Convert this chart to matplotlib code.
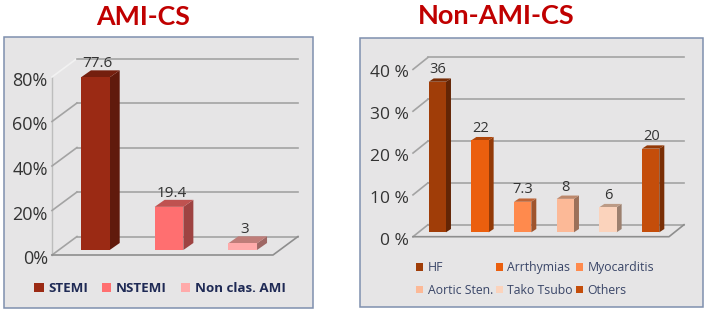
import matplotlib
matplotlib.use('Agg')
import matplotlib.pyplot as plt
from matplotlib.patches import Rectangle, Polygon, Patch
from matplotlib.lines import Line2D
from matplotlib.transforms import Affine2D

W, H = 709, 311

# AMI-CS
ami_labels = ['STEMI', 'NSTEMI', 'Non clas. AMI']
ami_values = [77.6, 19.4, 3]
ami_text = ['77.6', '19.4', '3']
ami_colors = ['#9B2A14', '#FF6F70', '#FFAAAA']
ami_ticks = [0, 20, 40, 60, 80]
ami_ticklabels = ['0%', '20%', '40%', '60%', '80%']

# Non-AMI-CS
non_labels = ['HF', 'Arrthymias', 'Myocarditis', 'Aortic Sten.', 'Tako Tsubo', 'Others']
non_values = [36, 22, 7.3, 8, 6, 20]
non_text = ['36', '22', '7.3', '8', '6', '20']
non_colors = ['#A03D08', '#EB5F0E', '#FF8A4D', '#FCB997', '#FBD3BC', '#C44D0A']
non_ticks = [0, 10, 20, 30, 40]
non_ticklabels = ['0 %', '10 %', '20 %', '30 %', '40 %']


def shade(color, f):
    r, g, b = matplotlib.colors.to_rgb(color)
    return (r * f, g * f * 0.98, b * f * 0.95)


def add_panel(x0, y0, x1, y1):
    fig.add_artist(Rectangle((x0 / W, 1 - y1 / H), (x1 - x0) / W, (y1 - y0) / H,
                             transform=fig.transFigure, fc='#E6E5E6', ec='#7E8FAE', lw=1.1, zorder=-1))


def draw_chart(box, values, text, colors, ticks, ticklabels, wall, bar_off, bar_depth, width,
               tick_size, lab_size, lab_dx, lab_gap, top_diag, left_edge):
    left, right, bottom, top = box
    ax = fig.add_axes([left / W, 1 - bottom / H, (right - left) / W, (bottom - top) / H])
    ax.patch.set_visible(False)
    n = len(values)
    ax.set_xlim(0, n)
    ax.set_ylim(0, ticks[-1])
    for s in ax.spines.values():
        s.set_visible(False)
    ax.set_xticks([])
    ax.set_yticks(ticks)
    ax.set_yticklabels(ticklabels, fontsize=tick_size, color='#333333')
    ax.tick_params(axis='y', length=0, pad=3)
    # labels sit a little under their gridline in the reference
    for lab in ax.get_yticklabels():
        lab.set_transform(lab.get_transform() + Affine2D().translate(0, -2))

    def px(x, y, dx=0, dy=0):
        p = ax.transData.transform((x, y))
        return (p[0] + dx, p[1] + dy)

    def poly(pts, **kw):
        ax.add_artist(Polygon(pts, closed=True, transform=None, clip_on=False, **kw))

    def line(pts, color='#A3A3A3', lw=1.2, z=1):
        ax.add_artist(Line2D([p[0] for p in pts], [p[1] for p in pts], transform=None,
                             color=color, lw=lw, zorder=z, clip_on=False))

    # walls, grid, floor
    if left_edge:
        line([px(0, 0), px(0, ticks[-1])], color=left_edge, lw=1)
    for t in ticks:
        c = top_diag if t == ticks[-1] else '#A3A3A3'
        line([px(0, t), px(0, t, *wall)], color=c)
        line([px(0, t, *wall), px(n, t, *wall)], color='#A3A3A3')
    line([px(0, 0), px(n, 0), px(n, 0, *wall)], color='#8E8E8E')

    for i, v in enumerate(values):
        xa = i + 0.5 - width / 2
        xb = i + 0.5 + width / 2
        ax.bar(i + 0.5, v, width=width, bottom=0, color=colors[i], zorder=5,
               transform=ax.transData + Affine2D().translate(*bar_off))
        ox, oy = bar_off
        dx, dy = bar_depth
        poly([px(xb, 0, ox, oy), px(xb, v, ox, oy), px(xb, v, ox + dx, oy + dy), px(xb, 0, ox + dx, oy + dy)],
             fc=shade(colors[i], 0.62), ec='none', zorder=4)
        poly([px(xa, v, ox, oy), px(xb, v, ox, oy), px(xb, v, ox + dx, oy + dy), px(xa, v, ox + dx, oy + dy)],
             fc=shade(colors[i], 0.75), ec='none', zorder=4)
        lx, ly = px(i + 0.5, v, ox + lab_dx, oy + dy + lab_gap)
        ax.text(lx, ly, text[i], transform=None, ha='center', va='bottom', fontsize=lab_size,
                color='#333333', zorder=6)
    return ax


plt.rcParams['font.family'] = ['Open Sans', 'DejaVu Sans']
fig = plt.figure(figsize=(W / 100, H / 100), dpi=100, facecolor='white')

add_panel(3.5, 37, 313, 308)
add_panel(360, 37.5, 702.5, 307)

ax1 = draw_chart((52, 273, 255, 77), ami_values, ami_text, ami_colors, ami_ticks, ami_ticklabels,
                 (25, 18.5), (6.5, 5), (10, 7), 0.39, 13, 11, 2.5, -1, '#F2F2F2', '#BDBDBD')
ax2 = draw_chart((413, 669, 236.7, 69.4), non_values, non_text, non_colors, non_ticks, non_ticklabels,
                 (15, 12), (3, 4.4), (5, 3.3), 0.405, 12.5, 10.5, 0.5, 1, '#A3A3A3', None)

fig.text(143 / W, 1 - 17 / H, 'AMI-CS', family='Lato', fontweight='bold', fontsize=19.3,
         color='#C00000', ha='center', va='center')
fig.text(496 / W, 1 - 16 / H, 'Non-AMI-CS', family='Lato', fontweight='bold', fontsize=19.5,
         color='#C00000', ha='center', va='center')

h1 = [Patch(fc=c, label=l) for c, l in zip(ami_colors, ami_labels)]
fig.legend(handles=h1, loc='center', bbox_to_anchor=(160 / W, 1 - 288.5 / H), ncol=3, frameon=False,
           prop={'family': 'Open Sans', 'weight': 'bold', 'size': 9.6}, labelcolor='#1F2A55',
           handlelength=0.7, handleheight=0.7, handletextpad=0.35, columnspacing=1.05)

# filled column by column, so reorder to read HF, Arrthymias, Myocarditis on the first row
order = [0, 3, 1, 4, 2, 5]
h2 = [Patch(fc=non_colors[i], label=non_labels[i]) for i in order]
fig.legend(handles=h2, loc='center', bbox_to_anchor=(535 / W, 1 - 279 / H), ncol=3, frameon=False,
           prop={'family': 'Open Sans', 'size': 8.8}, labelcolor='#3A4668',
           handlelength=0.6, handleheight=0.6, handletextpad=0.35, columnspacing=0.23, labelspacing=0.8)

fig.savefig('out.png', dpi=100)
